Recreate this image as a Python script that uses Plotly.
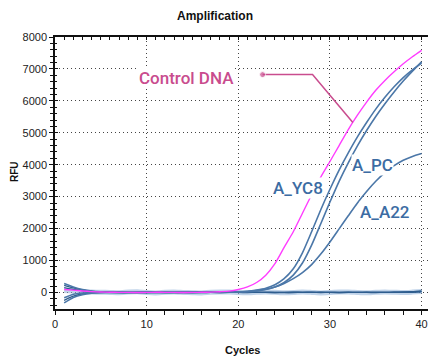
import numpy as np
import plotly.graph_objects as go

# ---------------- data ----------------
cycles = list(range(1, 41))

control_dna = [90, 70, 45, 25, 12, 5, 2, 0, -2, 0, 3, 2, 0, -3, 0, 4, 10, 22, 40, 90,
               170, 310, 540, 900, 1410, 1900, 2480, 3060, 3610, 4100,
               4600, 5100, 5550, 5960, 6330, 6640, 6910, 7160, 7380, 7580]

a_yc8 = [280, 170, 90, 40, 15, 5, 0, -3, 2, 0, -2, 0, 3, 0, -2, 0, 3, 6, 12, 20,
         30, 70, 130, 240, 430, 740, 1240, 1900, 2590, 3230,
         3830, 4370, 4870, 5320, 5740, 6110, 6440, 6730, 6970, 7180]

a_pc = [-330, -160, -70, -25, -5, 0, 2, 0, -2, 0, 2, 0, -2, 0, 2, 0, 3, 5, 9, 14,
        20, 45, 90, 170, 310, 540, 920, 1480, 2150, 2830,
        3480, 4060, 4590, 5070, 5510, 5910, 6280, 6620, 6930, 7220]

a_a22 = [-170, -60, -20, -5, 0, 2, 0, -2, 0, 2, 0, -2, 0, 2, 0, 3, 5, 8, 14, 22,
         35, 60, 100, 170, 280, 430, 620, 870, 1200, 1580,
         1990, 2400, 2800, 3160, 3480, 3750, 3970, 4140, 4260, 4350]

neg_1 = [220, 140, 75, 35, 15, 5, 0, -5, -3, 2, 4, 0, -4, -2, 3, 5, 0, -3, -2, 0,
         2, 4, 0, -3, -5, 0, 3, 5, 2, -2, -4, 0, 3, 2, 0, -2, 5, 10, 25, 50]
neg_2 = [150, 95, 50, 22, 8, 2, -3, -2, 3, 4, 0, -3, -2, 2, 5, 2, -2, -4, 0, 3,
         5, 2, -2, -4, 0, 4, 3, -1, -3, 0, 3, 4, 1, -2, -3, 2, 6, 12, 20, 35]
neg_3 = [-250, -120, -50, -18, -5, 0, 3, 2, -2, -4, 0, 3, 2, -2, -3, 0, 2, 4, 1, -2,
         -3, 0, 3, 2, -2, -3, 0, 3, 4, 0, -3, -2, 2, 4, 3, 0, -2, 0, 5, 15]
band = [60, 40, 20, 10, 5, 0, -10, 10, 20, -5, -15, 5, 15, 0, -10, -20, 5, 15, 10, -5,
        -10, 5, 15, 5, -10, -5, 10, 0, -15, -5, 10, 15, 0, -10, 5, 15, 5, -5, 10, 30]

x_ticks = [0, 10, 20, 30, 40]
y_ticks = [0, 1000, 2000, 3000, 4000, 5000, 6000, 7000, 8000]

# ---------------- style ----------------
BLUE = "#4b77a8"
NAVY = "#2e5d8e"
MAGENTA = "#ff3cff"
PINK_TXT = "#c94c8e"
BLUE_TXT = "#3c6ca3"
FONT = "Liberation Sans"

fig = go.Figure()

def line(y, color, width):
    fig.add_trace(go.Scatter(x=cycles, y=y, mode="lines",
                             line=dict(color=color, width=width, shape="spline", smoothing=0.6),
                             showlegend=False, hoverinfo="skip"))

line(band, "rgba(140,175,215,0.55)", 5)
line(neg_1, NAVY, 1.3)
line(neg_2, NAVY, 1.3)
line(neg_3, NAVY, 1.3)
line(a_a22, BLUE, 1.6)
line(a_pc, BLUE, 1.6)
line(a_yc8, BLUE, 1.6)
line(control_dna, MAGENTA, 1.4)

# pointer for "Control DNA"
end_x = 32.5
end_y = float(np.interp(end_x, cycles, control_dna))
fig.add_trace(go.Scatter(x=[22.65, 28.1, end_x], y=[6822, 6822, end_y],
                         mode="lines+markers",
                         line=dict(color=PINK_TXT, width=1.5),
                         marker=dict(size=[6, 0, 0], color=PINK_TXT),
                         showlegend=False, hoverinfo="skip"))

# secondary overlay axes for crossing ticks
fig.add_trace(go.Scatter(x=[None], y=[None], xaxis="x2", yaxis="y2",
                         showlegend=False, hoverinfo="skip"))

grid = dict(showgrid=True, gridcolor="#444", griddash="1px,3px", gridwidth=1)

fig.update_layout(
    width=432, height=358,
    margin=dict(l=55, r=4, t=37, b=49),
    paper_bgcolor="white", plot_bgcolor="white",
    font=dict(family=FONT, size=11, color="#222"),
    xaxis=dict(range=[0, 40.7], tickvals=x_ticks, ticks="outside", ticklen=4,
               tickcolor="#111", showline=True, linecolor="#111", linewidth=1.5,
               mirror=True, zeroline=False,
               minor=dict(dtick=2, tick0=0, ticks="outside", ticklen=4, tickcolor="#111"),
               tickfont=dict(size=11, family=FONT, color="#222"), **grid),
    yaxis=dict(range=[-520, 8000], tickvals=y_ticks, ticks="outside", ticklen=4,
               tickcolor="#111", showline=True, linecolor="#111", linewidth=1.5,
               zeroline=False,
               minor=dict(dtick=200, tick0=0, ticks="outside", ticklen=3, tickcolor="#111"),
               tickfont=dict(size=11, family=FONT, color="#222"), **grid),
    xaxis2=dict(range=[0, 40.7], overlaying="x", side="top", anchor="y2",
                tickvals=[i for i in range(0, 41)], ticks="inside", ticklen=3,
                tickcolor="#111", showticklabels=False, showgrid=False, zeroline=False,
                showline=False),
    yaxis2=dict(range=[-520, 8000], overlaying="y", side="left", anchor="x2",
                tickvals=y_ticks, ticks="inside", ticklen=3, tickcolor="#111",
                minor=dict(dtick=200, tick0=0, ticks="inside", ticklen=2, tickcolor="#111"),
                showticklabels=False, showgrid=False, zeroline=False, showline=False),
    showlegend=False,
)

ann = []
def label(text, x, y, color, size=17):
    ann.append(dict(x=x, y=y, xref="x", yref="y", text=text, showarrow=False,
                    font=dict(family="Roboto", size=size, color=color, weight=500),
                    bgcolor="white", borderpad=0, xanchor="center", yanchor="middle"))

label("Control DNA", 14.36, 6720, PINK_TXT)
label("A_YC8", 26.54, 3272, BLUE_TXT)
label("A_PC", 34.6, 4000, BLUE_TXT)
label("A_A22", 36.0, 2519, BLUE_TXT)

ann.append(dict(text="<b>Amplification</b>", x=(215 - 55) / 373, y=(309 - 16) / 272,
                xref="paper", yref="paper", showarrow=False,
                font=dict(family=FONT, size=12, color="#111"), xanchor="center", yanchor="middle"))
ann.append(dict(text="<b>Cycles</b>", x=(242 - 55) / 373, y=(309 - 350) / 272,
                xref="paper", yref="paper", showarrow=False,
                font=dict(family=FONT, size=11, color="#111"), xanchor="center", yanchor="middle"))
ann.append(dict(text="<b>RFU</b>", x=(14 - 55) / 373, y=(309 - 172) / 272,
                xref="paper", yref="paper", showarrow=False, textangle=-90,
                font=dict(family=FONT, size=10, color="#111"), xanchor="center", yanchor="middle"))
fig.update_layout(annotations=ann)

fig.write_html("out.html", config={"displayModeBar": False},
               post_script="document.body.style.margin='0';")
